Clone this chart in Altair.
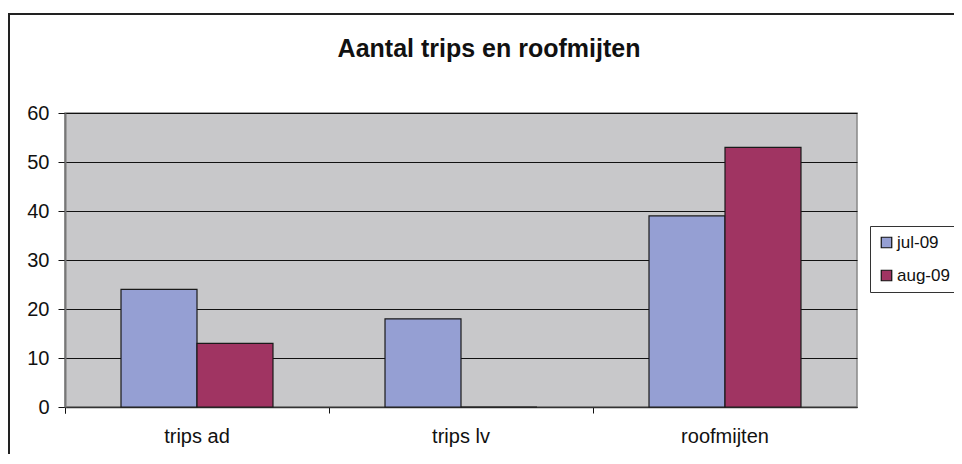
import altair as alt
import pandas as pd

categories = ["trips ad", "trips lv", "roofmijten"]
series = ["jul-09", "aug-09"]
jul_values = [24, 18, 39]
aug_values = [13, 0, 53]
colors = ["#959FD3", "#A03462"]
title_text = "Aantal trips en roofmijten"

rows = []
for c, j, a in zip(categories, jul_values, aug_values):
    rows.append({"cat": c, "serie": series[0], "val": j})
    rows.append({"cat": c, "serie": series[1], "val": a})
df = pd.DataFrame(rows)

FONT = "Liberation Sans"
FS = 20

bars = alt.Chart(df).mark_bar(stroke="#1a1a1a", strokeWidth=1.2).encode(
    x=alt.X("cat:N", sort=categories, title=None,
            scale=alt.Scale(paddingInner=0, paddingOuter=0),
            axis=alt.Axis(bandPosition=0, tickExtra=True, labelAngle=0,
                          tickSize=6, tickColor="#111", domainColor="#333",
                          domainWidth=1.5, labelFontSize=FS, labelFont=FONT,
                          labelColor="#111", labelPadding=13, grid=False)),
    xOffset=alt.XOffset("serie:N", sort=series,
                        scale=alt.Scale(paddingInner=0, paddingOuter=0.737)),
    y=alt.Y("val:Q", title=None,
            scale=alt.Scale(domain=[0, 60], nice=False),
            axis=alt.Axis(values=[0, 10, 20, 30, 40, 50, 60], tickSize=7,
                          tickColor="#111", domainColor="#777", domainWidth=2,
                          grid=True, gridColor="#111", gridWidth=1,
                          labelFontSize=FS, labelFont=FONT, labelColor="#111",
                          labelPadding=9)),
    color=alt.Color("serie:N", sort=series,
                    scale=alt.Scale(domain=series, range=colors),
                    legend=alt.Legend(title=None, orient="none", legendX=805,
                                      legendY=113, symbolType="square",
                                      symbolSize=110, symbolStrokeColor="#111",
                                      symbolStrokeWidth=1.2,
                                      labelFontSize=17, labelFont=FONT,
                                      labelColor="#111",
                                      strokeColor="#333", padding=8,
                                      rowPadding=15, labelOffset=2,
                                      fillColor="white")),
)

frame = alt.Chart(pd.DataFrame({"a": [0]})).mark_rect(
    fill=None, stroke="#222", strokeWidth=2
).encode(
    x=alt.value(-56), x2=alt.value(950), y=alt.value(-99), y2=alt.value(400)
)

title = alt.Chart(pd.DataFrame({"t": [title_text]})).mark_text(
    font=FONT, fontSize=25, fontWeight="bold", color="#111",
    align="center", baseline="alphabetic"
).encode(
    text="t:N", x=alt.value(424), y=alt.value(-56)
)

chart = alt.layer(frame, bars, title).properties(
    width=792, height=294,
    autosize=alt.AutoSizeParams(type="none"),
    padding={"left": 57, "top": 105, "right": 97, "bottom": 47},
).configure(background="white").configure_view(
    fill="#C8C8CA", stroke="#888", strokeWidth=1.5
)

chart.save("out.html", embed_options={"renderer": "svg", "actions": False})
